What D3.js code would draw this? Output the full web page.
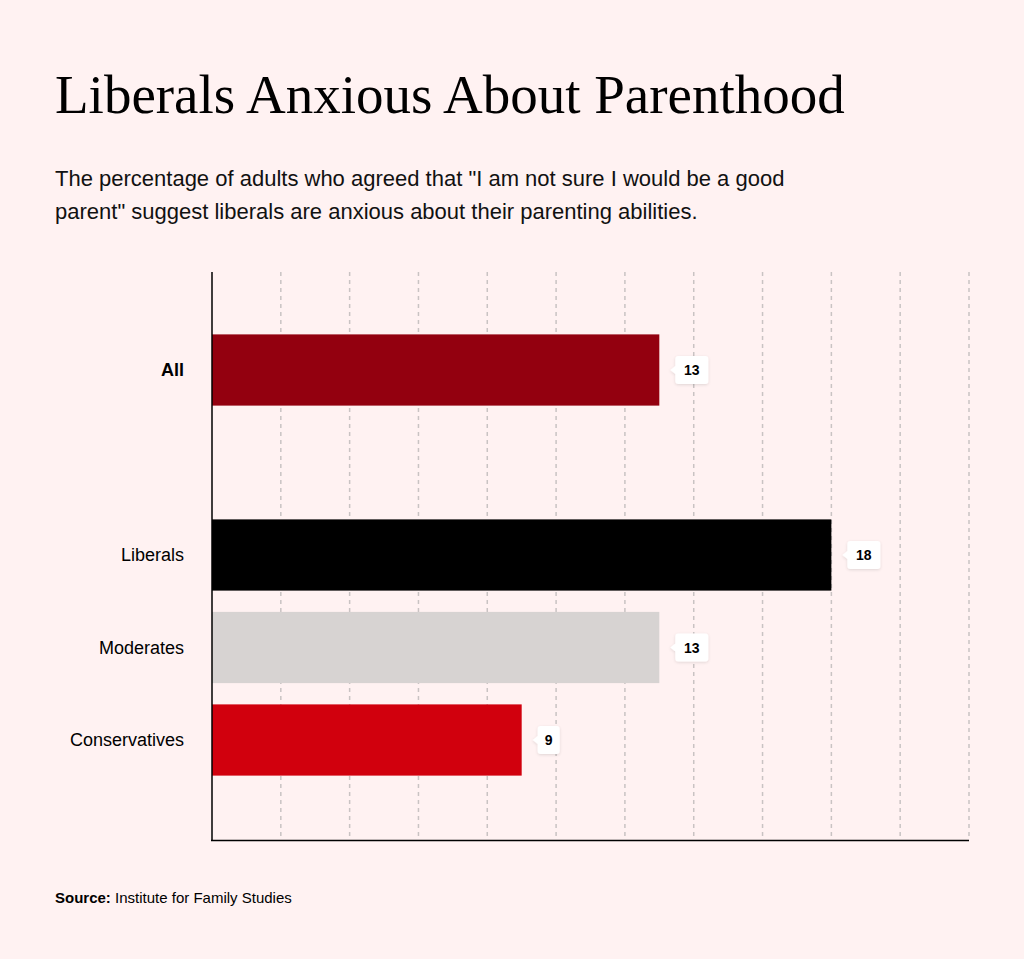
<!DOCTYPE html>
<html><head><meta charset="utf-8">
<script src="https://cdn.jsdelivr.net/npm/d3@7"></script>
<style>body{margin:0;background:#fff2f2;}</style></head>
<body><svg id="c" width="1024" height="959"></svg>
<script>
const categories = ["All", "", "Liberals", "Moderates", "Conservatives"];
const values = [13, null, 18, 13, 9];
const colors = ["#93000f", null, "#000000", "#d7d3d2", "#d1000d"];
const xTicks = [0,2,4,6,8,10,12,14,16,18,20,22];

const svg = d3.select("#c");
svg.append("rect").attr("width",1024).attr("height",959).attr("fill","#fff2f2");
const defs = svg.append("defs");
const f = defs.append("filter").attr("id","sh").attr("x","-30%").attr("y","-30%").attr("width","160%").attr("height","160%");
f.append("feDropShadow").attr("dx",0).attr("dy",1).attr("stdDeviation",1.5).attr("flood-color","#000").attr("flood-opacity",0.12);

svg.append("text").attr("x",55).attr("y",113).attr("font-family","Liberation Serif, serif").attr("font-size",55).attr("fill","#000").text("Liberals Anxious About Parenthood");
const sub = svg.append("text").attr("font-family","Liberation Sans, Arial, sans-serif").attr("font-size",22).attr("fill","#111");
sub.append("tspan").attr("x",55).attr("y",186).text('The percentage of adults who agreed that "I am not sure I would be a good');
sub.append("tspan").attr("x",55).attr("y",219).text('parent" suggest liberals are anxious about their parenting abilities.');

const x = d3.scaleLinear().domain([0,22]).range([212,969]);
const y = d3.scaleBand().domain(categories).range([323.75,786.25]).paddingInner(0.23).paddingOuter(0.115);

svg.append("g").selectAll("line").data(xTicks.slice(1)).join("line")
  .attr("x1",d=>x(d)).attr("x2",d=>x(d)).attr("y1",272).attr("y2",840)
  .attr("stroke","#c9c3c3").attr("stroke-width",1.5).attr("stroke-dasharray","4,4");

const data = categories.map((c,i)=>({c,v:values[i],col:colors[i]})).filter(d=>d.v!=null);
svg.append("g").selectAll("rect").data(data).join("rect")
  .attr("x",x(0)).attr("y",d=>y(d.c)).attr("width",d=>x(d.v)-x(0)).attr("height",y.bandwidth()).attr("fill",d=>d.col);

svg.append("line").attr("x1",212).attr("x2",212).attr("y1",272).attr("y2",841).attr("stroke","#000").attr("stroke-width",1.5);
svg.append("line").attr("x1",211).attr("x2",969).attr("y1",840.5).attr("y2",840.5).attr("stroke","#000").attr("stroke-width",1.5);

svg.append("g").selectAll("text").data(data).join("text")
  .attr("x",184).attr("y",d=>y(d.c)+y.bandwidth()/2+6).attr("text-anchor","end")
  .attr("font-family","Liberation Sans, Arial, sans-serif").attr("font-size",18)
  .attr("font-weight",d=>d.c==="All"?"bold":"normal").text(d=>d.c);

const lab = svg.append("g").selectAll("g").data(data).join("g")
  .attr("transform",d=>`translate(${x(d.v)+16},${y(d.c)+y.bandwidth()/2})`);
lab.append("path").attr("filter","url(#sh)").attr("fill","#fff")
  .attr("d",d=>{const w=d.v>=10?33:22,h=28,r=3;return `M0,-4 L-5,0 L0,4 L0,${h/2-r} Q0,${h/2} ${r},${h/2} L${w-r},${h/2} Q${w},${h/2} ${w},${h/2-r} L${w},${-h/2+r} Q${w},${-h/2} ${w-r},${-h/2} L${r},${-h/2} Q0,${-h/2} 0,${-h/2+r} Z`;});
lab.append("text").attr("x",d=>d.v>=10?16.5:11).attr("y",5).attr("text-anchor","middle")
  .attr("font-family","Liberation Sans, Arial, sans-serif").attr("font-size",14).attr("font-weight","bold").text(d=>d.v);

const src = svg.append("text").attr("x",55).attr("y",903).attr("font-family","Liberation Sans, Arial, sans-serif").attr("font-size",15);
src.append("tspan").attr("font-weight","bold").text("Source:");
src.append("tspan").text(" Institute for Family Studies");
</script></body></html>
